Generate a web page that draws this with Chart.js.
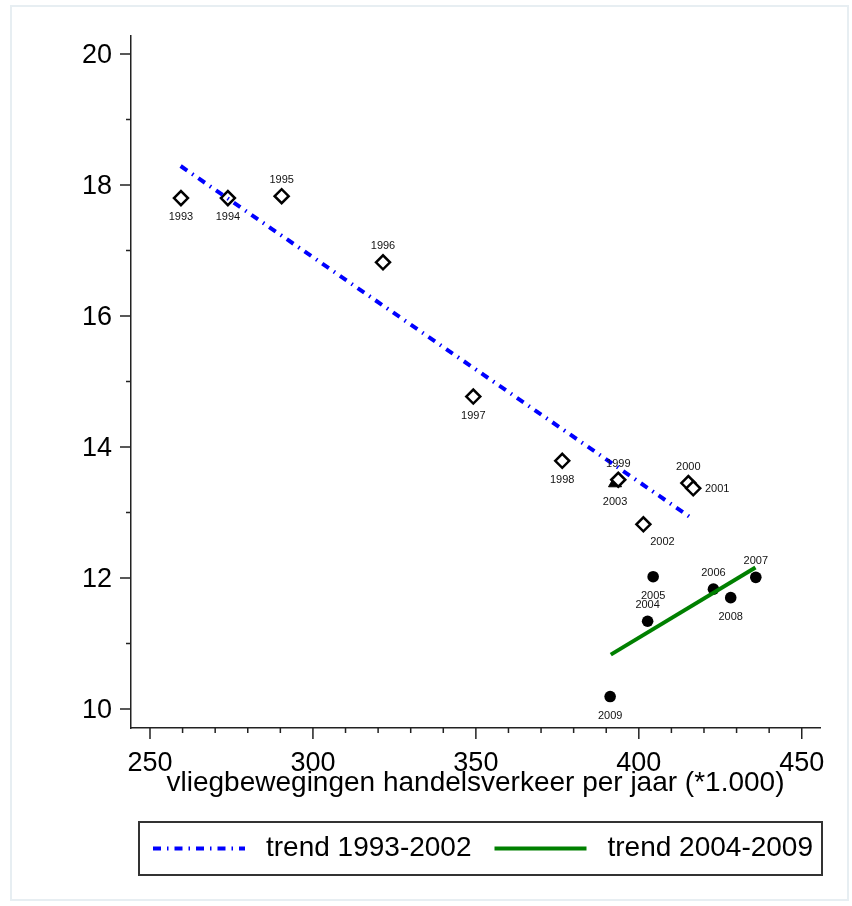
<!DOCTYPE html>
<html>
<head>
<meta charset="utf-8">
<script src="https://cdn.jsdelivr.net/npm/chart.js@4.4.1/dist/chart.umd.min.js"></script>
<style>
  html, body { margin:0; padding:0; background:#fff; }
  #frame { position:absolute; left:10px; top:5px; width:839px; height:896px; border:2px solid #e7eef2; box-sizing:border-box; }
  #wrap { position:absolute; left:0; top:0; width:852px; height:906px; }
</style>
</head>
<body>
<div id="frame"></div>
<div id="wrap"><canvas id="c" width="852" height="906"></canvas></div>
<script>
// jaren 1993-2002 (open ruit)
const years1 = [1993, 1994, 1995, 1996, 1997, 1998, 1999, 2000, 2001, 2002];
const flights1 = [259.5, 273.9, 290.4, 321.5, 349.2, 376.5, 393.7, 415.2, 416.7, 401.4];
const values1 = [17.80, 17.80, 17.83, 16.82, 14.77, 13.79, 13.50, 13.45, 13.37, 12.82];
// 2003 (driehoek)
const years3 = [2003];
const flights3 = [392.7];
const values3 = [13.45];
// jaren 2004-2009 (dichte stip)
const years2 = [2004, 2005, 2006, 2007, 2008, 2009];
const flights2 = [402.7, 404.4, 422.9, 435.9, 428.2, 391.2];
const values2 = [11.34, 12.02, 11.83, 12.01, 11.70, 10.19];
// trendlijnen
const trend1X = [259.4, 415.7];
const trend1Y = [18.29, 12.93];
const trend2X = [391.4, 435.8];
const trend2Y = [10.83, 12.16];
// as-labels
const xTicks = [250, 300, 350, 400, 450];
const yTicks = [10, 12, 14, 16, 18, 20];
const xTitle = "vliegbewegingen handelsverkeer per jaar (*1.000)";

// plaats van jaartal t.o.v. het punt
const sides1 = ["below","below","above","above","below","below","above","above","right","belowright"];
const sides3 = ["below"];
const sides2 = ["above","below","above","above","below","below"];
const labelOffset = { above:[0,-16], below:[0,19], right:[24,1], belowright:[19,18] };

const FONT = '"Liberation Sans", Arial, sans-serif';
const pts = (xs, ys) => xs.map((x, i) => ({x, y: ys[i]}));

// jaartallen bij de punten
const pointLabels = {
  id: "pointLabels",
  afterDatasetsDraw(chart){
    const ctx = chart.ctx;
    ctx.save();
    ctx.font = "11px " + FONT;
    ctx.fillStyle = "#111";
    ctx.textAlign = "center";
    ctx.textBaseline = "middle";
    chart.data.datasets.forEach((ds, i)=>{
      if(!ds.years) return;
      chart.getDatasetMeta(i).data.forEach((p, j)=>{
        const off = labelOffset[ds.sides[j]];
        ctx.fillText(String(ds.years[j]), p.x + off[0], p.y + off[1]);
      });
    });
    ctx.restore();
  }
};

// tick streepjes (groot + klein)
const axisTicks = {
  id: "axisTicks",
  afterDraw(chart){
    const {ctx, scales:{x, y}} = chart;
    ctx.save();
    ctx.strokeStyle = "#222";
    ctx.lineWidth = 1.5;
    ctx.beginPath();
    for(let v = Math.ceil(x.min/10)*10; v <= x.max; v += 10){
      const px = x.getPixelForValue(v);
      const len = v % 50 === 0 ? 11 : 5;
      ctx.moveTo(px, x.top); ctx.lineTo(px, x.top + len);
    }
    for(let v = Math.ceil(y.min); v <= y.max; v += 1){
      const py = y.getPixelForValue(v);
      const len = v % 2 === 0 ? 11 : 5;
      ctx.moveTo(y.right, py); ctx.lineTo(y.right - len, py);
    }
    ctx.stroke();
    ctx.restore();
  }
};

// legenda met kader
const boxLegend = {
  id: "boxLegend",
  afterDraw(chart){
    const {ctx, chartArea:a} = chart;
    const left = a.left + 8, right = a.right + 2, top = a.bottom + 94, h = 53;
    const mid = top + h/2;
    ctx.save();
    ctx.strokeStyle = "#333";
    ctx.lineWidth = 2;
    ctx.strokeRect(left, top, right - left, h);
    ctx.beginPath();
    ctx.rect(left, top, right - left - 1, h);
    ctx.clip();
    ctx.font = "28px " + FONT;
    ctx.textBaseline = "middle";
    ctx.fillStyle = "#000";
    let xPos = left + 14;
    chart.data.datasets.filter(ds => ds.trend).forEach(ds=>{
      ctx.beginPath();
      ctx.strokeStyle = ds.borderColor;
      ctx.lineWidth = ds.borderWidth;
      ctx.setLineDash(ds.borderDash || []);
      ctx.moveTo(xPos, mid); ctx.lineTo(xPos + 92, mid);
      ctx.stroke();
      ctx.setLineDash([]);
      xPos += 92 + 21;
      ctx.fillText(ds.label, xPos, mid);
      xPos += ctx.measureText(ds.label).width + 23;
    });
    ctx.restore();
  }
};

new Chart(document.getElementById("c"), {
  type: "scatter",
  data: {
    datasets: [
      { label:"trend 1993-2002", trend:true, data: pts(trend1X, trend1Y), showLine:true,
        borderColor:"#0000ff", borderWidth:4, borderDash:[8,6,1.5,6], pointRadius:0 },
      { label:"trend 2004-2009", trend:true, data: pts(trend2X, trend2Y), showLine:true,
        borderColor:"#008000", borderWidth:4, pointRadius:0 },
      { label:"1993-2002", years:years1, sides:sides1, data: pts(flights1, values1),
        pointStyle:"rectRot", pointRadius:7, borderWidth:2.5, borderColor:"#000", backgroundColor:"#fff" },
      { label:"2003", years:years3, sides:sides3, data: pts(flights3, values3),
        pointStyle:"triangle", pointRadius:7.5, borderWidth:1, borderColor:"#000", backgroundColor:"#000" },
      { label:"2004-2009", years:years2, sides:sides2, data: pts(flights2, values2),
        pointStyle:"circle", pointRadius:5.8, borderWidth:0, backgroundColor:"#000" }
    ]
  },
  options: {
    responsive:false,
    animation:false,
    layout:{ padding:{ left:0, top:36, right:32, bottom:106 } },
    plugins:{ legend:{display:false}, tooltip:{enabled:false} },
    scales:{
      x:{
        type:"linear", min:244.17, max:455.6,
        afterBuildTicks: s => { s.ticks = xTicks.map(v => ({value:v})); },
        afterFit: s => { s.height = 72; },
        grid:{ drawOnChartArea:false, drawTicks:false },
        border:{ color:"#222", width:1.5 },
        ticks:{ padding:19, color:"#000", font:{ family:FONT, size:27 } },
        title:{ display:true, text:xTitle, color:"#000", padding:{top:0, bottom:0}, font:{ family:FONT, size:28 } }
      },
      y:{
        type:"linear", min:9.71, max:20.275,
        afterBuildTicks: s => { s.ticks = yTicks.map(v => ({value:v})); },
        afterFit: s => { s.width = 131; },
        grid:{ drawOnChartArea:false, drawTicks:false },
        border:{ color:"#222", width:1.5 },
        ticks:{ padding:19, labelOffset:2, color:"#000", font:{ family:FONT, size:27 } }
      }
    }
  },
  plugins:[pointLabels, axisTicks, boxLegend]
});
</script>
</body>
</html>
